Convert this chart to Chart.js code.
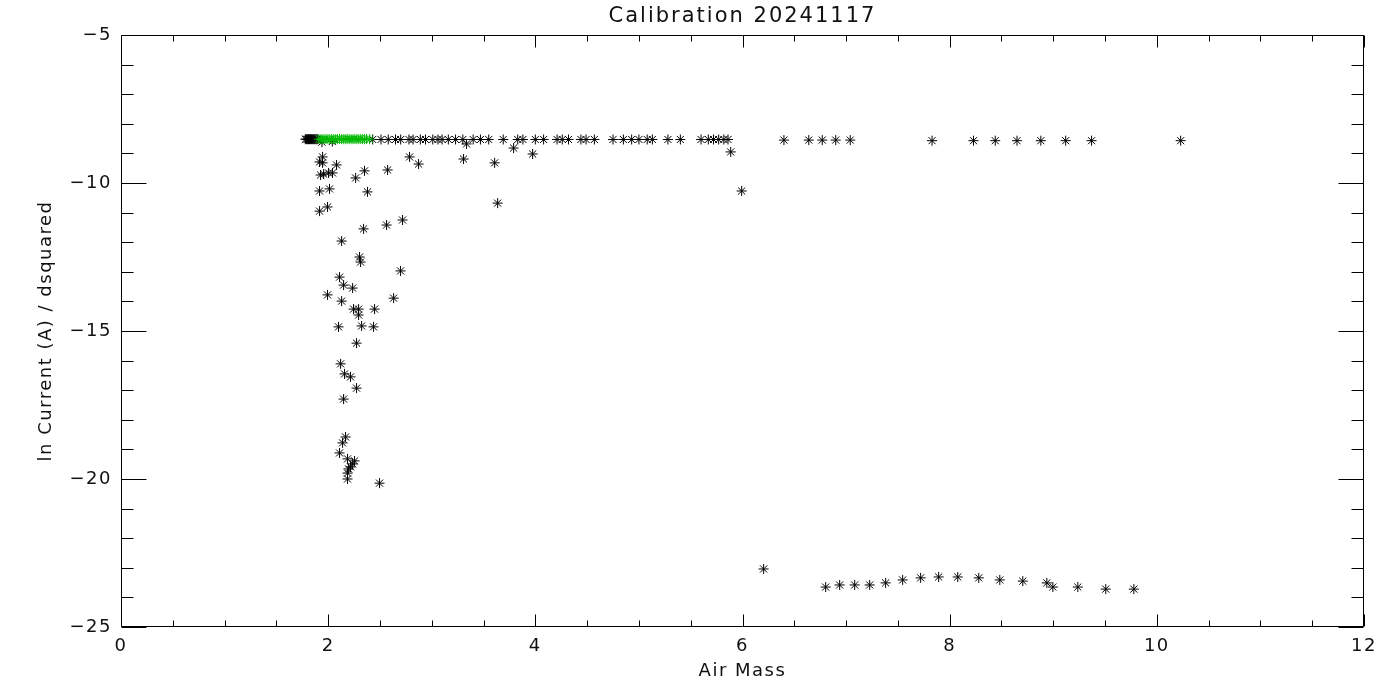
<!DOCTYPE html>
<html>
<head>
<meta charset="utf-8">
<script src="https://cdn.jsdelivr.net/npm/chart.js@4.4.1/dist/chart.umd.min.js"></script>
<style>
  html, body { margin: 0; padding: 0; background: #fff; }
  #wrap { width: 1400px; height: 700px; }
</style>
</head>
<body>
<div id="wrap"><canvas id="c" width="1400" height="700"></canvas></div>
<script>
// ---- Data ----
const chartTitle = 'Calibration 20241117';
const xTitle = 'Air Mass';
const yTitle = 'ln Current (A) / dsquared';

const xTickValues = [0, 2, 4, 6, 8, 10, 12];
const yTickValues = [-25, -20, -15, -10, -5];

// black points along the saturated top row
const topX = [1.78, 1.79, 1.80, 1.81, 1.82, 1.83, 1.84, 1.85, 1.86, 1.87, 1.88, 1.89, 1.90,
  1.94, 2.04,
  2.43, 2.51, 2.58, 2.65, 2.70, 2.78, 2.82, 2.89, 2.94, 3.01, 3.06, 3.10, 3.16, 3.23, 3.30,
  3.40, 3.47, 3.55, 3.69, 3.83, 3.88, 4.00, 4.08, 4.21, 4.26, 4.32, 4.44, 4.49, 4.57,
  4.75, 4.85, 4.93, 5.00, 5.08, 5.13, 5.28, 5.40, 5.60, 5.67, 5.72, 5.77, 5.82, 5.86,
  6.40, 6.64, 6.77, 6.90, 7.04, 7.83, 8.23, 8.44, 8.65, 8.88, 9.12, 9.37, 10.23];
const topY = [-8.52, -8.52, -8.52, -8.52, -8.52, -8.52, -8.52, -8.52, -8.52, -8.52, -8.52, -8.52, -8.52,
  -8.62, -8.60,
  -8.53, -8.53, -8.53, -8.53, -8.53, -8.53, -8.53, -8.53, -8.53, -8.53, -8.53, -8.53, -8.53, -8.53, -8.53,
  -8.53, -8.53, -8.53, -8.53, -8.53, -8.53, -8.53, -8.53, -8.53, -8.53, -8.53, -8.53, -8.53, -8.53,
  -8.53, -8.53, -8.53, -8.53, -8.53, -8.53, -8.53, -8.53, -8.53, -8.53, -8.53, -8.53, -8.53, -8.53,
  -8.55, -8.55, -8.55, -8.55, -8.55, -8.57, -8.57, -8.57, -8.57, -8.57, -8.57, -8.57, -8.57];

// green points (highlighted subset)
const greenX = [1.91, 1.93, 1.95, 1.97, 1.99, 2.01, 2.03, 2.05, 2.07, 2.09, 2.11, 2.13, 2.15,
  2.17, 2.19, 2.21, 2.23, 2.25, 2.27, 2.29, 2.31, 2.33, 2.35, 2.37, 2.40];
const greenY = [-8.52, -8.52, -8.52, -8.51, -8.52, -8.52, -8.51, -8.52, -8.52, -8.52, -8.51, -8.52, -8.52,
  -8.52, -8.51, -8.52, -8.52, -8.51, -8.52, -8.52, -8.51, -8.52, -8.52, -8.51, -8.52];

// scattered black points below the top row (x ~ 1.9 .. 6)
const scatterX = [1.946, 1.917, 1.946, 2.081, 2.786, 2.873, 3.307, 3.336, 1.956, 2.004, 2.042, 1.927,
  2.351, 2.265, 2.574, 1.917, 2.013, 2.380, 1.917, 1.994, 2.718, 2.564, 2.342, 2.130,
  3.790, 3.607, 3.974, 3.636, 5.886, 5.992,
  2.303, 2.313, 2.699, 2.110, 2.149, 2.236, 1.994, 2.130, 2.632, 2.245, 2.294, 2.294, 2.448,
  2.100, 2.323, 2.438, 2.274, 2.120, 2.158, 2.216, 2.274, 2.149,
  2.168, 2.139, 2.110, 2.187, 2.255, 2.236, 2.216, 2.197, 2.187, 2.187, 2.496];
const scatterY = [-9.12, -9.29, -9.32, -9.39, -9.12, -9.36, -9.19, -8.68, -9.70, -9.66, -9.66, -9.73,
  -9.59, -9.83, -9.56, -10.27, -10.20, -10.30, -10.95, -10.81, -11.25, -11.42, -11.55, -11.96,
  -8.82, -9.32, -9.02, -10.68, -8.95, -10.27,
  -12.50, -12.67, -12.97, -13.18, -13.45, -13.55, -13.78, -13.99, -13.89, -14.26, -14.26, -14.46, -14.26,
  -14.86, -14.83, -14.86, -15.41, -16.11, -16.45, -16.55, -16.93, -17.30,
  -18.58, -18.78, -19.12, -19.32, -19.39, -19.49, -19.59, -19.66, -19.80, -20.00, -20.14];

// low row of black points (x ~ 6.2 .. 9.8)
const lowX = [6.204, 6.803, 6.938, 7.083, 7.228, 7.382, 7.546, 7.720, 7.894, 8.078, 8.281,
  8.484, 8.706, 8.938, 8.996, 9.237, 9.507, 9.778];
const lowY = [-23.04, -23.65, -23.58, -23.58, -23.58, -23.51, -23.41, -23.34, -23.31, -23.31, -23.34,
  -23.41, -23.45, -23.51, -23.65, -23.65, -23.72, -23.72];

// ---- Build datasets ----
function toPoints(xs, ys) { return xs.map((x, i) => ({ x: x, y: ys[i] })); }
const blackPoints = toPoints(topX, topY).concat(toPoints(scatterX, scatterY), toPoints(lowX, lowY));
const greenPoints = toPoints(greenX, greenY);

const FONT = "'DejaVu Sans', 'Liberation Sans', sans-serif";
const TEXT_COLOR = '#111';

function fmtTick(v) {
  return (v < 0 ? '\u2212' + Math.abs(v) : String(v));
}

// frame with inward ticks on all four sides, and the title
const framePlugin = {
  id: 'idlFrame',
  beforeDraw(chart) {
    chart.ctx.letterSpacing = '1.5px';
  },
  afterDraw(chart) {
    const ctx = chart.ctx;
    const a = chart.chartArea;
    const xs = chart.scales.x, ys = chart.scales.y;
    ctx.save();
    ctx.strokeStyle = '#000';
    ctx.lineWidth = 1;
    ctx.beginPath();
    const L = Math.round(a.left) + 0.5, R = Math.round(a.right) - 0.5;
    const T = Math.round(a.top) + 0.5, B = Math.round(a.bottom) - 0.5;
    ctx.rect(L, T, R - L, B - T);
    // x ticks: major every 2, minor every 0.5
    for (let v = xs.min; v <= xs.max + 1e-9; v += 0.5) {
      const px = Math.round(xs.getPixelForValue(v)) + 0.5;
      const len = (Math.abs(v % 2) < 1e-9) ? 12 : 6;
      ctx.moveTo(px, B); ctx.lineTo(px, B - len);
      ctx.moveTo(px, T); ctx.lineTo(px, T + len);
    }
    // y ticks: major every 5, minor every 1
    for (let v = ys.min; v <= ys.max + 1e-9; v += 1) {
      const py = Math.round(ys.getPixelForValue(v)) + 0.5;
      const len = (Math.abs(v % 5) < 1e-9) ? 25 : 12;
      ctx.moveTo(L, py); ctx.lineTo(L + len, py);
      ctx.moveTo(R, py); ctx.lineTo(R - len, py);
    }
    ctx.stroke();
    // title
    ctx.fillStyle = TEXT_COLOR;
    ctx.font = "21px " + FONT;
    ctx.letterSpacing = '2px';
    ctx.textAlign = 'center';
    ctx.textBaseline = 'middle';
    ctx.fillText(chartTitle, (a.left + a.right) / 2, 17);
    ctx.restore();
  }
};

new Chart(document.getElementById('c'), {
  type: 'scatter',
  data: {
    datasets: [
      {
        label: 'selected',
        data: greenPoints,
        order: 0,
        pointStyle: 'star',
        pointRadius: 5,
        pointBorderWidth: 1,
        borderColor: 'rgb(0,185,0)',
        backgroundColor: 'rgb(0,185,0)'
      },
      {
        label: 'all',
        data: blackPoints,
        order: 1,
        pointStyle: 'star',
        pointRadius: 5,
        pointBorderWidth: 1,
        borderColor: '#000',
        backgroundColor: '#000'
      }
    ]
  },
  options: {
    responsive: false,
    animation: false,
    devicePixelRatio: 1,
    layout: { padding: { top: 35, right: 36, left: 0, bottom: 0 } },
    plugins: {
      legend: { display: false },
      title: { display: false },
      tooltip: { enabled: false }
    },
    scales: {
      x: {
        type: 'linear',
        min: 0, max: 12,
        grid: { display: false, drawTicks: false },
        border: { display: false },
        afterBuildTicks(scale) { scale.ticks = xTickValues.map(v => ({ value: v })); },
        afterFit(scale) { scale.height = 73; },
        ticks: {
          padding: 9,
          color: TEXT_COLOR,
          font: { family: FONT, size: 18 },
          maxRotation: 0,
          callback: (v) => fmtTick(v)
        },
        title: {
          display: true,
          text: xTitle,
          color: TEXT_COLOR,
          font: { family: FONT, size: 18 },
          padding: { top: 0, bottom: 18 }
        }
      },
      y: {
        type: 'linear',
        min: -25, max: -5,
        grid: { display: false, drawTicks: false },
        border: { display: false },
        afterBuildTicks(scale) { scale.ticks = yTickValues.map(v => ({ value: v })); },
        afterFit(scale) { scale.width = 121; },
        ticks: {
          padding: 9,
          color: TEXT_COLOR,
          font: { family: FONT, size: 18 },
          callback: (v) => fmtTick(v)
        },
        title: {
          display: true,
          text: yTitle,
          color: TEXT_COLOR,
          font: { family: FONT, size: 18 },
          padding: { top: 36, bottom: 0 }
        }
      }
    }
  },
  plugins: [framePlugin]
});
</script>
</body>
</html>
